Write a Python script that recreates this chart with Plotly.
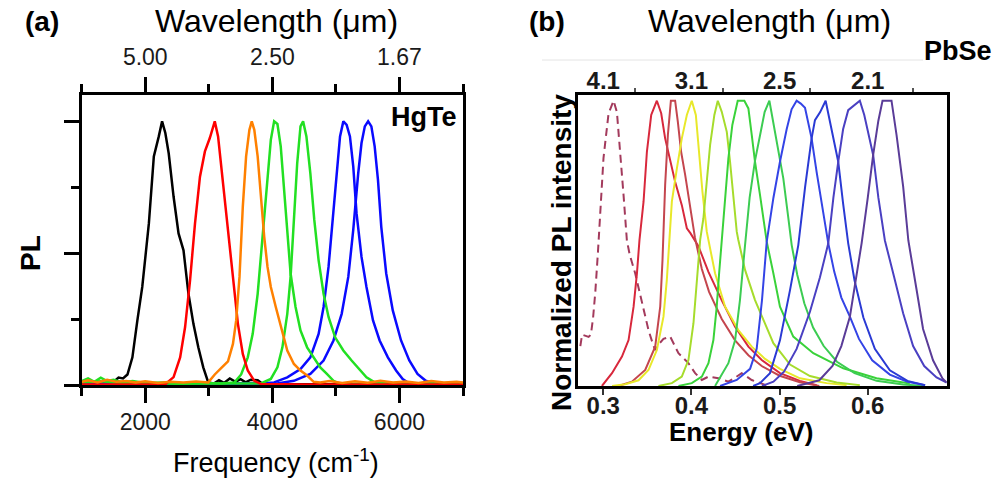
import plotly.graph_objects as go

# ---------------- (a) HgTe: PL spectra vs frequency (cm^-1) ----------------
FREQ_BLACK = [1000, 1150, 1300, 1409, 1500, 1580, 1650, 1720, 1798, 1876, 1953, 2057, 2135, 2213, 2265,
              2316, 2369, 2446, 2524, 2602, 2680, 2758, 2835, 2913, 2991, 3080, 3160, 3240, 3330, 3420,
              3500, 3580, 3660, 3769, 3850, 4000, 5000, 7000]
PL_BLACK = [0.004, 0.004, 0.004, 0.016, 0.012, 0.028, 0.025, 0.04, 0.105, 0.245, 0.372, 0.613, 0.867, 0.943, 1.0,
            0.956, 0.879, 0.714, 0.575, 0.511, 0.346, 0.232, 0.143, 0.067, 0.010, 0.006, 0.018, 0.008, 0.025, 0.012,
            0.022, 0.01, 0.02, 0.018, 0.004, 0.003, 0.003, 0.003]

FREQ_RED = [1000, 1500, 2000, 2316, 2446, 2549, 2627, 2705, 2783, 2861, 2939, 3016, 3094, 3146, 3224,
            3302, 3380, 3458, 3535, 3613, 3716, 3820, 4500, 5500, 7000]
PL_RED = [0.002, 0.002, 0.002, 0.003, 0.03, 0.105, 0.22, 0.397, 0.613, 0.79, 0.886, 0.937, 1.0, 0.943, 0.765,
          0.588, 0.397, 0.232, 0.118, 0.055, 0.016, 0.004, 0.002, 0.002, 0.002]

FREQ_ORANGE = [1000, 1100, 1250, 1400, 1550, 1700, 1850, 2000, 2200, 2400, 2600, 2800,
               2991, 3094, 3198, 3302, 3380, 3431, 3483, 3535, 3587, 3639,
               3676, 3716, 3769, 3820, 3872, 3924, 3976, 4054, 4132, 4235,
               4339, 4443, 4547, 4650, 4754,
               4900, 5100, 5300, 5500, 5700, 5900, 6100, 6300, 6500, 6700, 6900, 7000]
PL_ORANGE = [0.012, 0.018, 0.01, 0.02, 0.012, 0.015, 0.01, 0.014, 0.008, 0.012, 0.01, 0.013,
             0.01, 0.04, 0.065, 0.09, 0.156, 0.245, 0.41, 0.676, 0.867, 0.968,
             1.0, 0.968, 0.867, 0.702, 0.562, 0.448, 0.372, 0.296, 0.22, 0.131,
             0.08, 0.055, 0.036, 0.012, 0.01,
             0.015, 0.008, 0.014, 0.009, 0.016, 0.01, 0.013, 0.008, 0.015, 0.01, 0.012, 0.01]

FREQ_GREEN1 = [1000, 1100, 1200, 1300, 1400, 1500, 1650, 1800, 2000, 2300, 2600, 2900, 3200,
               3405, 3509, 3613, 3691, 3769, 3846, 3924, 3976, 4028, 4080,
               4132, 4184, 4235, 4287, 4365, 4443, 4547, 4650, 4754, 4858,
               4962, 5065, 5500, 6000, 6500, 7000]
PL_GREEN1 = [0.015, 0.025, 0.012, 0.028, 0.015, 0.02, 0.01, 0.015, 0.008, 0.01, 0.006, 0.008, 0.006,
             0.01, 0.04, 0.105, 0.194, 0.346, 0.562, 0.803, 0.93, 1.0, 0.99,
             0.905, 0.74, 0.562, 0.423, 0.296, 0.207, 0.143, 0.105, 0.067, 0.042,
             0.016, 0.004, 0.006, 0.008, 0.006, 0.008]

FREQ_GREEN2 = [1000, 1300, 1600, 2000, 2500, 3000, 3500, 3820,
               3976, 4080, 4158, 4235, 4287, 4339, 4391, 4443, 4484, 4536,
               4598, 4660, 4728, 4806, 4884, 4988, 5117, 5247, 5377, 5481,
               5610, 5740, 6200, 6600, 7000]
PL_GREEN2 = [0.01, 0.014, 0.008, 0.006, 0.005, 0.006, 0.005, 0.006,
             0.023, 0.067, 0.143, 0.27, 0.41, 0.613, 0.841, 0.981, 1.0, 0.943,
             0.803, 0.626, 0.473, 0.346, 0.258, 0.181, 0.131, 0.093, 0.055, 0.029,
             0.01, 0.004, 0.005, 0.006, 0.005]

FREQ_BLUE1 = [1000, 1500, 2000, 2500, 3000, 3500, 3820,
              4028, 4235, 4443, 4598, 4728, 4806, 4884, 4962, 5013, 5065,
              5117, 5169, 5221, 5273, 5325, 5403, 5481, 5584, 5688, 5818,
              5947, 6051, 6155, 6500, 7000]
PL_BLUE1 = [0.006, 0.008, 0.005, 0.006, 0.005, 0.008, 0.006,
            0.01, 0.029, 0.061, 0.105, 0.194, 0.296, 0.448, 0.664, 0.829, 0.943,
            1.0, 0.987, 0.943, 0.829, 0.651, 0.486, 0.372, 0.245, 0.169, 0.105,
            0.055, 0.023, 0.006, 0.005, 0.004]

FREQ_BLUE2 = [1000, 1500, 2000, 2500, 3000, 3500,
              4028, 4339, 4598, 4806, 4962, 5091, 5195, 5273, 5351, 5403,
              5455, 5507, 5558, 5610, 5662, 5714, 5792, 5895, 6025, 6155,
              6284, 6414, 6570, 6800, 7000]
PL_BLUE2 = [0.005, 0.006, 0.004, 0.006, 0.005, 0.006,
            0.004, 0.016, 0.042, 0.093, 0.169, 0.27, 0.41, 0.588, 0.803, 0.918,
            0.981, 1.0, 0.981, 0.905, 0.778, 0.6, 0.423, 0.283, 0.169, 0.093,
            0.042, 0.016, 0.004, 0.006, 0.005]

FREQ_MAJOR = [2000, 4000, 6000]
FREQ_MINOR = [1000, 3000, 5000, 7000]
WAVELENGTH_LABELS_A = ["5.00", "2.50", "1.67"]
PL_MAJOR = [0, 0.5, 1.0]
PL_MINOR = [0.25, 0.75]

# ---------------- (b) PbSe: normalized PL vs energy (eV) ----------------
E_DASH = [0.2740, 0.2760, 0.2834, 0.2860, 0.2885, 0.2910, 0.2940, 0.2970, 0.3003, 0.3060, 0.3117, 0.3155,
          0.3193, 0.3230, 0.3268, 0.3300, 0.3362, 0.3438, 0.3513, 0.3560, 0.3589, 0.3640, 0.3683, 0.3759,
          0.3853, 0.3966, 0.4042, 0.4118, 0.4193, 0.4306, 0.4419, 0.4500, 0.4570, 0.4684, 0.4797, 0.4870]
I_DASH = [0.14, 0.18, 0.172, 0.18, 0.24, 0.33, 0.47, 0.62, 0.80, 0.955, 1.0, 0.96,
          0.82, 0.67, 0.51, 0.46, 0.395, 0.29, 0.196, 0.15, 0.126, 0.15, 0.165, 0.173,
          0.115, 0.08, 0.045, 0.021, 0.033, 0.027, 0.015, 0.03, 0.045, 0.021, 0.009, 0.0]

E_RED1 = [0.2985, 0.3099, 0.3212, 0.3287, 0.3344, 0.3382, 0.3411, 0.3457, 0.3495, 0.3544, 0.3608, 0.3657,
          0.3702, 0.3759, 0.3815, 0.3891, 0.3948, 0.3990, 0.4023, 0.4079, 0.4193, 0.4344, 0.4495, 0.4646,
          0.4797, 0.5004, 0.5231, 0.5420]
I_RED1 = [0.0, 0.045, 0.103, 0.161, 0.278, 0.395, 0.512, 0.646, 0.821, 0.95, 1.0, 0.956,
          0.868, 0.786, 0.716, 0.634, 0.553, 0.535, 0.52, 0.49, 0.40, 0.30, 0.208, 0.138,
          0.091, 0.045, 0.018, 0.003]

E_RED2 = [0.3173, 0.3325, 0.3476, 0.3589, 0.3646, 0.3672, 0.3702, 0.3733, 0.3767, 0.3815, 0.3846, 0.3883,
          0.3929, 0.3985, 0.4040, 0.4118, 0.4200, 0.4344, 0.4495, 0.4646, 0.4797, 0.5000, 0.5230, 0.5450]
I_RED2 = [0.0, 0.015, 0.056, 0.138, 0.278, 0.442, 0.705, 0.88, 1.0, 1.0, 0.926, 0.821,
          0.74, 0.63, 0.52, 0.41, 0.33, 0.235, 0.16, 0.108, 0.07, 0.036, 0.013, 0.0]

E_YELLOW = [0.3100, 0.3249, 0.3400, 0.3513, 0.3608, 0.3683, 0.3721, 0.3751, 0.3778, 0.3835, 0.3891, 0.3948,
            0.4004, 0.4050, 0.4087, 0.4125, 0.4174, 0.4193, 0.4268, 0.4382, 0.4532, 0.4684, 0.4835, 0.5004,
            0.5231, 0.5533, 0.5760]
I_YELLOW = [0.0, 0.006, 0.02, 0.056, 0.126, 0.243, 0.372, 0.512, 0.646, 0.763, 0.868, 0.95,
            1.0, 0.95, 0.821, 0.681, 0.541, 0.512, 0.395, 0.278, 0.196, 0.138, 0.095, 0.06,
            0.027, 0.01, 0.003]

E_LIME = [0.3626, 0.3778, 0.3891, 0.3966, 0.4023, 0.4061, 0.4099, 0.4136, 0.4174, 0.4212, 0.4260, 0.4299,
          0.4344, 0.4401, 0.4438, 0.4476, 0.4514, 0.4532, 0.4608, 0.4721, 0.4835, 0.4929, 0.5118, 0.5344,
          0.5647, 0.5910]
I_LIME = [0.0, 0.01, 0.033, 0.091, 0.22, 0.372, 0.512, 0.588, 0.705, 0.845, 0.95, 1.0,
          0.961, 0.891, 0.786, 0.669, 0.541, 0.512, 0.407, 0.301, 0.22, 0.15, 0.075, 0.035,
          0.012, 0.003]

E_GREEN1 = [0.3853, 0.4004, 0.4118, 0.4193, 0.4249, 0.4287, 0.4314, 0.4344, 0.4382, 0.4419, 0.4464, 0.4525,
            0.4600, 0.4646, 0.4684, 0.4721, 0.4778, 0.4816, 0.4854, 0.4929, 0.5004, 0.5155, 0.5382, 0.5722,
            0.6099, 0.6477]
I_GREEN1 = [0.0, 0.01, 0.033, 0.08, 0.161, 0.278, 0.395, 0.512, 0.669, 0.798, 0.915, 1.0,
            1.0, 0.973, 0.88, 0.786, 0.669, 0.588, 0.506, 0.395, 0.278, 0.173, 0.115, 0.062,
            0.027, 0.009]

E_GREEN2 = [0.4268, 0.4306, 0.4419, 0.4495, 0.4550, 0.4608, 0.4660, 0.4721, 0.4778, 0.4830, 0.4884, 0.4910,
            0.4967, 0.5042, 0.5099, 0.5137, 0.5200, 0.5280, 0.5380, 0.5500, 0.5650, 0.5850, 0.6100, 0.6400,
            0.6650]
I_GREEN2 = [0.0, 0.02, 0.08, 0.16, 0.3, 0.494, 0.66, 0.79, 0.88, 0.96, 1.0, 0.956,
            0.868, 0.728, 0.588, 0.494, 0.39, 0.29, 0.205, 0.14, 0.085, 0.045, 0.018, 0.005,
            0.0]

E_BLUE1 = [0.4325, 0.4514, 0.4665, 0.4740, 0.4800, 0.4854, 0.4930, 0.5004, 0.5080, 0.5136, 0.5193, 0.5240,
           0.5288, 0.5325, 0.5363, 0.5420, 0.5490, 0.5552, 0.5620, 0.5700, 0.5797, 0.5900, 0.6050, 0.6250,
           0.6450, 0.6650]
I_BLUE1 = [0.0, 0.021, 0.06, 0.13, 0.30, 0.506, 0.66, 0.786, 0.9, 0.97, 1.0, 0.99,
           0.975, 0.92, 0.868, 0.75, 0.62, 0.5, 0.4, 0.31, 0.243, 0.165, 0.09, 0.04,
           0.015, 0.003]

E_BLUE2 = [0.4700, 0.4778, 0.4891, 0.5004, 0.5118, 0.5212, 0.5290, 0.5363, 0.5401, 0.5460, 0.5522, 0.5570,
           0.5620, 0.5665, 0.5720, 0.5778, 0.5850, 0.5950, 0.6080, 0.6250, 0.6450, 0.6650]
I_BLUE2 = [0.0, 0.01, 0.045, 0.16, 0.336, 0.494, 0.70, 0.868, 0.932, 0.96, 1.0, 0.93,
           0.85, 0.786, 0.64, 0.5, 0.37, 0.24, 0.13, 0.055, 0.018, 0.003]

E_INDIGO = [0.4800, 0.4930, 0.5050, 0.5193, 0.5344, 0.5457, 0.5552, 0.5610, 0.5665, 0.5720, 0.5778, 0.5850,
            0.5910, 0.5960, 0.6020, 0.6061, 0.6120, 0.6194, 0.6288, 0.6401, 0.6514, 0.6640, 0.6780, 0.6895]
I_INDIGO = [0.0, 0.015, 0.05, 0.13, 0.26, 0.38, 0.5, 0.66, 0.786, 0.9, 0.967, 0.985,
            1.0, 0.95, 0.86, 0.81, 0.66, 0.51, 0.395, 0.255, 0.14, 0.07, 0.03, 0.012]

E_PURPLE = [0.5200, 0.5450, 0.5600, 0.5700, 0.5797, 0.5860, 0.5930, 0.6000, 0.6061, 0.6120, 0.6167, 0.6269,
            0.6326, 0.6401, 0.6460, 0.6552, 0.6627, 0.6740, 0.6850, 0.6895]
I_PURPLE = [0.0, 0.02, 0.07, 0.14, 0.243, 0.37, 0.5, 0.66, 0.81, 0.93, 1.0, 1.0,
            0.88, 0.70, 0.51, 0.34, 0.2, 0.09, 0.025, 0.012]

ENERGY_TICKS = [0.3, 0.4, 0.5, 0.6]
ENERGY_LABELS = ["0.3", "0.4", "0.5", "0.6"]
WAVELENGTH_LABELS_B = ["4.1", "3.1", "2.5", "2.1"]
WAVELENGTH_MINOR_B = [0.3362, 0.4362, 0.5344, 0.6514]

FONT = "Liberation Sans, Arial, sans-serif"

fig = go.Figure()

hgte = [
    (FREQ_BLACK, PL_BLACK, "#000000"),
    (FREQ_BLUE2, PL_BLUE2, "#0a0aff"),
    (FREQ_BLUE1, PL_BLUE1, "#0a0aff"),
    (FREQ_GREEN2, PL_GREEN2, "#22e022"),
    (FREQ_GREEN1, PL_GREEN1, "#22e022"),
    (FREQ_RED, PL_RED, "#ff0000"),
    (FREQ_ORANGE, PL_ORANGE, "#ff8000"),
]
for xs, ys, col in hgte:
    fig.add_trace(go.Scatter(x=xs, y=ys, mode="lines", xaxis="x", yaxis="y",
                             line=dict(color=col, width=2.5), showlegend=False, hoverinfo="skip"))
# carrier for the wavelength axis on top of (a)
fig.add_trace(go.Scatter(x=FREQ_BLACK, y=PL_BLACK, mode="lines", xaxis="x2", yaxis="y",
                         line=dict(width=0), opacity=0, showlegend=False, hoverinfo="skip"))

pbse = [
    (E_DASH, I_DASH, "#a33a5c", "8px,5px"),
    (E_RED1, I_RED1, "#d8283c", "solid"),
    (E_RED2, I_RED2, "#c4464e", "solid"),
    (E_YELLOW, I_YELLOW, "#e8e82a", "solid"),
    (E_LIME, I_LIME, "#a6dc2c", "solid"),
    (E_GREEN1, I_GREEN1, "#3ad23a", "solid"),
    (E_GREEN2, I_GREEN2, "#3ccc52", "solid"),
    (E_BLUE1, I_BLUE1, "#3444e6", "solid"),
    (E_BLUE2, I_BLUE2, "#2a3ad4", "solid"),
    (E_INDIGO, I_INDIGO, "#4a40c2", "solid"),
    (E_PURPLE, I_PURPLE, "#5a3c98", "solid"),
]
for xs, ys, col, dash in pbse:
    fig.add_trace(go.Scatter(x=xs, y=ys, mode="lines", xaxis="x3", yaxis="y2",
                             line=dict(color=col, width=2, dash=dash), showlegend=False, hoverinfo="skip"))
fig.add_trace(go.Scatter(x=E_PURPLE, y=I_PURPLE, mode="lines", xaxis="x4", yaxis="y2",
                         line=dict(width=0), opacity=0, showlegend=False, hoverinfo="skip"))

frame_a = dict(showgrid=False, zeroline=False, showline=True, linecolor="black", linewidth=2.5)
frame_b = dict(showgrid=False, zeroline=False, showline=True, linecolor="black", linewidth=3)
tick_a = dict(ticks="outside", ticklen=15, tickwidth=2.5, tickcolor="black")
minor_a = dict(ticks="outside", ticklen=8, tickwidth=2.5, tickcolor="black")

fig.update_layout(
    width=1000, height=482,
    margin=dict(l=0, r=0, t=0, b=0),
    paper_bgcolor="white", plot_bgcolor="white",
    xaxis=dict(domain=[0.0817, 0.463], anchor="y", range=[1000, 7000],
               tickmode="array", tickvals=FREQ_MAJOR, ticktext=[str(v) for v in FREQ_MAJOR],
               minor=dict(tickmode="array", tickvals=FREQ_MINOR, **minor_a),
               tickfont=dict(family=FONT, size=23, color="#1a1a1a"),
               mirror=True, **tick_a, **frame_a),
    xaxis2=dict(overlaying="x", side="top", anchor="y", range=[1000, 7000],
                tickmode="array", tickvals=FREQ_MAJOR, ticktext=WAVELENGTH_LABELS_A,
                minor=dict(tickmode="array", tickvals=FREQ_MINOR, **minor_a),
                tickfont=dict(family=FONT, size=23, color="#1a1a1a"),
                ticklabelstandoff=3,
                **tick_a, **frame_a),
    yaxis=dict(domain=[0.2012, 0.8029], anchor="x", range=[0, 1.1],
               tickmode="array", tickvals=PL_MAJOR, showticklabels=False,
               minor=dict(tickmode="array", tickvals=PL_MINOR, **minor_a),
               mirror=True, **tick_a, **frame_a),
    xaxis3=dict(domain=[0.5783, 0.9467], anchor="y2", range=[0.2717, 0.6895],
                tickmode="array", tickvals=ENERGY_TICKS, ticktext=ENERGY_LABELS,
                ticks="outside", ticklen=6, tickwidth=1.5, tickcolor="#333",
                tickfont=dict(family=FONT, size=24, color="#1a1a1a", weight="bold"),
                ticklabelstandoff=-10,
                mirror=True, **frame_b),
    xaxis4=dict(overlaying="x3", side="top", anchor="y2", range=[0.2717, 0.6895],
                tickmode="array", tickvals=ENERGY_TICKS, ticktext=WAVELENGTH_LABELS_B,
                ticks="",
                minor=dict(tickmode="array", tickvals=WAVELENGTH_MINOR_B, ticks="outside",
                           ticklen=4, tickwidth=1.5, tickcolor="#555"),
                tickfont=dict(family=FONT, size=24, color="#1a1a1a", weight="bold"),
                ticklabelstandoff=-7,
                **frame_b),
    yaxis2=dict(domain=[0.1992, 0.8029], anchor="x3", range=[0, 1.02],
                showticklabels=False, ticks="", mirror=True, **frame_b),
)

def label(text, x, y, size, bold=False, angle=0):
    return dict(text=f"<b>{text}</b>" if bold else text, x=x / 1000, y=1 - y / 482,
                xref="paper", yref="paper", xanchor="center", yanchor="middle",
                showarrow=False, textangle=angle,
                font=dict(family=FONT, size=size, color="black"))

fig.update_layout(annotations=[
    label("(a)", 42, 22, 28, bold=True),
    label("Wavelength (\u03bcm)", 276, 21, 32),
    label("Frequency (cm<sup>-1</sup>)", 276, 461, 27),
    label("PL", 30, 253, 28, bold=True, angle=-90),
    label("HgTe", 424, 117, 27, bold=True),
    label("(b)", 547, 22, 28, bold=True),
    label("Wavelength (\u03bcm)", 769, 21, 32),
    label("PbSe", 958, 51, 27, bold=True),
    label("Energy (eV)", 741, 432, 26, bold=True),
    label("Normalized PL intensity", 561, 253, 28, bold=True, angle=-90),
])

fig.add_shape(type="line", xref="paper", yref="paper", x0=0.542, x1=0.923,
              y0=1 - 60 / 482, y1=1 - 60 / 482, line=dict(color="#e4e4e4", width=1))

fig.write_html("out.html")
